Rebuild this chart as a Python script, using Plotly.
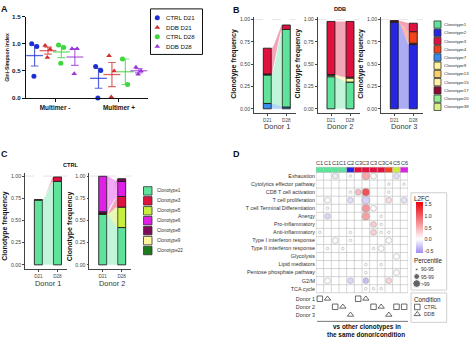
import numpy as np
import plotly.graph_objects as go

W, H = 474, 342
FONT = "Liberation Sans, Arial, Helvetica, sans-serif"

# ---------------- Panel A: Gini-Simpson index ----------------
a_groups = ["Multimer -", "Multimer +"]
a_series = ["CTRL D21", "DDB D21", "CTRL D28", "DDB D28"]
a_ctrl_d21 = [[1.00, 0.95, 0.40], [0.58, 0.51, 0.00]]
a_ddb_d21 = [[0.97, 0.90, 0.75], [0.78, 0.50, 0.02]]
a_ctrl_d28 = [[0.98, 0.93, 0.64], [0.72, 0.25]]
a_ddb_d28 = [[0.91, 0.91, 0.45], [0.57, 0.50, 0.44]]
a_yticks = [0.0, 0.5, 1.0, 1.5]

# ---------------- Clonotype palette ----------------
clonotypes = ["Clonotype1", "Clonotype2", "Clonotype3", "Clonotype4", "Clonotype5",
              "Clonotype6", "Clonotype7", "Clonotype8", "Clonotype9", "Clonotype13",
              "Clonotype15", "Clonotype17", "Clonotype20", "Clonotype22", "Clonotype38"]
clonotype_colors = ["#5fe39b", "#2626e2", "#df113f", "#f2411d", "#c6ef3d",
                    "#df20e6", "#3a8df0", "#7e0b5a", "#fff49b", "#f7cf66",
                    "#fff1a6", "#8c0b33", "#91ef8f", "#1d7a1d", "#daf087"]
ddb_legend = ["Clonotype1", "Clonotype2", "Clonotype3", "Clonotype4", "Clonotype7",
              "Clonotype9", "Clonotype13", "Clonotype15", "Clonotype17", "Clonotype20",
              "Clonotype38"]
ctrl_legend = ["Clonotype1", "Clonotype3", "Clonotype5", "Clonotype6", "Clonotype8",
               "Clonotype9", "Clonotype22"]
timepoints = ["D21", "D28"]
freq_ticks = [0, 0.25, 0.5, 0.75, 1.0]

# Clonotype frequencies per bar, stacked bottom to top
ddb_d1_d21_clones = ["Clonotype7", "Clonotype1", "Clonotype17", "Clonotype3"]
ddb_d1_d21_freq = [0.06, 0.32, 0.01, 0.29]
ddb_d1_d28_clones = ["Clonotype7", "Clonotype1", "Clonotype3"]
ddb_d1_d28_freq = [0.02, 0.87, 0.05]
ddb_d2_d21_clones = ["Clonotype1", "Clonotype9", "Clonotype13", "Clonotype3"]
ddb_d2_d21_freq = [0.36, 0.015, 0.01, 0.595]
ddb_d2_d28_clones = ["Clonotype1", "Clonotype9", "Clonotype13", "Clonotype3"]
ddb_d2_d28_freq = [0.30, 0.045, 0.01, 0.625]
ddb_d3_d21_clones = ["Clonotype2", "Clonotype4", "Clonotype3"]
ddb_d3_d21_freq = [0.97, 0.01, 0.01]
ddb_d3_d28_clones = ["Clonotype2", "Clonotype17", "Clonotype4", "Clonotype3"]
ddb_d3_d28_freq = [0.72, 0.015, 0.13, 0.095]
ctrl_d1_d21_clones = ["Clonotype1", "Clonotype3"]
ctrl_d1_d21_freq = [0.73, 0.004]
ctrl_d1_d28_clones = ["Clonotype1", "Clonotype3"]
ctrl_d1_d28_freq = [0.94, 0.05]
ctrl_d2_d21_clones = ["Clonotype1", "Clonotype5", "Clonotype3", "Clonotype8", "Clonotype6"]
ctrl_d2_d21_freq = [0.57, 0.004, 0.004, 0.02, 0.40]
ctrl_d2_d28_clones = ["Clonotype1", "Clonotype5", "Clonotype3", "Clonotype6", "Clonotype8"]
ctrl_d2_d28_freq = [0.42, 0.23, 0.12, 0.17, 0.03]

# ---------------- Panel D: pathway enrichment ----------------
pathways = ["Exhaustion", "Cytolytics effector pathway", "CD8 T cell activation",
            "T cell proliferation", "T cell Terminal Differentiation", "Anergy",
            "Pro-inflammatory", "Anti-inflammatory", "Type I interferon response",
            "Type II interferon response", "Glycolysis", "Lipid mediators",
            "Pentose phosphate pathway", "G2/M", "TCA cycle"]
col_labels = ["C1", "C1", "C1", "C1", "C2", "C3", "C3", "C3", "C3", "C4", "C5", "C6"]
col_donor = [1, 1, 2, 2, 3, 1, 1, 2, 2, 3, 2, 2]
col_condition = ["CTRL", "DDB", "CTRL", "DDB", "DDB", "CTRL", "DDB", "CTRL", "DDB",
                 "DDB", "CTRL", "CTRL"]
donors = ["Donor 1", "Donor 2", "Donor 3"]
dot_pathway = (["Exhaustion"] * 5 + ["Cytolytics effector pathway"] * 2
               + ["CD8 T cell activation"] * 4 + ["T cell proliferation"] * 5
               + ["T cell Terminal Differentiation"] * 3 + ["Anergy"] * 3
               + ["Pro-inflammatory"] * 2 + ["Anti-inflammatory"] * 5
               + ["Type I interferon response"] * 3 + ["Type II interferon response"] * 4
               + ["Glycolysis"] + ["Lipid mediators"] * 2
               + ["Pentose phosphate pathway"] * 2 + ["G2/M"] * 4 + ["TCA cycle"] * 3)
dot_col = [2, 4, 6, 7, 10,
           9, 11,
           4, 5, 6, 9,
           1, 4, 6, 9, 11,
           1, 6, 7,
           1, 6, 8,
           7, 8,
           0, 4, 7, 8, 9,
           2, 4, 9,
           1, 3, 7, 8,
           10,
           6, 8,
           6, 10,
           1, 4, 6, 9,
           6, 7, 8]
dot_l2fc = [-0.15, 0.0, 0.8, 0.02, -0.25,
            0.0, 0.0,
            0.0, 0.6, 1.55, 0.0,
            0.02, -0.25, -0.35, 0.3, -0.2,
            0.0, 0.95, 0.02,
            -0.3, 0.85, 0.0,
            0.45, 0.0,
            0.0, 0.0, 0.4, 0.0, 0.0,
            0.02, 0.0, 0.02,
            0.0, 0.0, 0.0, 0.02,
            0.02,
            0.0, 0.0,
            0.0, 0.02,
            0.02, -0.3, -0.5, 0.35,
            0.0, 0.0, 0.0]
dot_pct = ["95-99", "90-95", ">99", "95-99", "95-99",
           "90-95", "90-95",
           "90-95", "95-99", ">99", "90-95",
           "95-99", "95-99", ">99", "95-99", "95-99",
           "90-95", ">99", "95-99",
           "95-99", ">99", "90-95",
           "95-99", "90-95",
           "90-95", "90-95", "95-99", "90-95", "90-95",
           "95-99", "90-95", "95-99",
           "90-95", "90-95", "90-95", "95-99",
           "95-99",
           "90-95", "90-95",
           "90-95", "95-99",
           "95-99", "95-99", "95-99", "95-99",
           "90-95", "90-95", "90-95"]
pct_levels = ["90-95", "95-99", ">99"]
l2fc_ticks = [-0.5, 0.0, 0.5, 1.0, 1.5]

# ---------------- helpers ----------------
color_of = dict(zip(clonotypes, clonotype_colors))
pct_size = dict(zip(pct_levels, [2.6, 5.8, 7.8]))


def px(x):
    return x / W


def py(y):
    return 1 - y / H


def rgba(hex_color, a):
    h = hex_color.lstrip("#")
    r, g, b = int(h[0:2], 16), int(h[2:4], 16), int(h[4:6], 16)
    return f"rgba({r},{g},{b},{a})"


fig = go.Figure()
annotations = []
shapes = []


def text(x, y, s, size, color="#222", bold=False, xanchor="center", angle=0):
    annotations.append(dict(
        x=px(x), y=py(y), xref="paper", yref="paper", text=s, showarrow=False,
        xanchor=xanchor, yanchor="middle", textangle=angle, borderpad=0, borderwidth=0,
        font=dict(family=FONT, size=size, color=color, weight="bold" if bold else "normal")))


# ---------------- Panel A ----------------
a_values = [a_ctrl_d21, a_ddb_d21, a_ctrl_d28, a_ddb_d28]
a_colors = ["#1d2fd4", "#d42b2b", "#3bd73b", "#9a36d8"]
a_symbols = ["circle", "triangle-up", "circle", "triangle-up"]
a_offsets = [-0.32, -0.11, 0.10, 0.31]
jitter = [-0.045, 0.035, -0.01, 0.02]
for s, name in enumerate(a_series):
    xs, ys, mx, my, me = [], [], [], [], []
    for g in range(len(a_groups)):
        vals = np.array(a_values[s][g])
        for k, v in enumerate(vals):
            xs.append(g + a_offsets[s] + jitter[k % len(jitter)])
            ys.append(v)
        mx.append(g + a_offsets[s])
        my.append(vals.mean())
        me.append(vals.std(ddof=1) / np.sqrt(len(vals)))
    fig.add_trace(go.Scatter(
        x=mx, y=my, mode="markers", xaxis="x", yaxis="y", cliponaxis=False,
        marker=dict(symbol="line-ew", size=12, color=rgba(a_colors[s], 0.75),
                    line=dict(width=1.3, color=rgba(a_colors[s], 0.75))),
        error_y=dict(type="data", array=me, visible=True, width=3.8, thickness=1.2,
                     color=rgba(a_colors[s], 0.75))))
    fig.add_trace(go.Scatter(
        x=xs, y=ys, mode="markers", xaxis="x", yaxis="y", cliponaxis=False,
        marker=dict(symbol=a_symbols[s], size=5, color=a_colors[s], line=dict(width=0))))

ax_a = dict(domain=[px(26), px(148)], range=[-0.454, 1.454], anchor="y",
            tickvals=[0, 1], ticktext=a_groups, showline=True, linecolor="#111",
            linewidth=1.1, ticks="outside", ticklen=3, tickwidth=1, tickcolor="#111",
            tickfont=dict(family=FONT, size=6.4, color="#111", weight="bold"),
            showgrid=False, zeroline=False)
ay_a = dict(domain=[py(96), py(13)], range=[0, 1.5], anchor="x",
            tickvals=a_yticks, ticktext=[f"{v:.1f}" for v in a_yticks], showline=True,
            linecolor="#111", linewidth=1.1, ticks="outside", ticklen=3, tickwidth=1,
            tickcolor="#111", tickfont=dict(family=FONT, size=6.2, color="#111", weight="bold"),
            showgrid=False, zeroline=False)
text(7, 55, "Gini-Simpson index", 5.2, "#111", True, angle=-90)

# A legend
shapes.append(dict(type="rect", xref="paper", yref="paper", x0=px(150.5), x1=px(202.5),
                   y0=py(51.5), y1=py(5), line=dict(color="#111", width=1)))
leg_y = [14, 24, 33.5, 43.3]
fig.add_trace(go.Scatter(
    x=[157.3] * 4, y=leg_y, mode="markers", xaxis="x8", yaxis="y8", cliponaxis=False,
    marker=dict(symbol=a_symbols, size=5, color=a_colors)))
for s, name in enumerate(a_series):
    text(166, leg_y[s], name, 6.1, "#111", xanchor="left")


# ---------------- Panels B and C: alluvial bars ----------------
BW = 0.42


def alluvium(n, bars):
    spans = []
    for clones, freqs in bars:
        f = np.array(freqs, dtype=float)
        bottoms = np.concatenate([[0.0], np.cumsum(f)[:-1]])
        spans.append({c: (b, b + v) for c, b, v in zip(clones, bottoms, f)})
    t = np.linspace(0, 1, 40)
    s = t * t * (3 - 2 * t)
    xr = BW / 2 + (1 - BW) * t
    for c in bars[0][0]:
        if c in spans[1]:
            (a0, a1), (b0, b1) = spans[0][c], spans[1][c]
            top = a1 + (b1 - a1) * s
            bot = a0 + (b0 - a0) * s
            fig.add_trace(go.Scatter(
                x=np.concatenate([xr, xr[::-1]]), y=np.concatenate([top, bot[::-1]]),
                mode="lines", fill="toself", fillcolor=rgba(color_of[c], 0.38),
                line=dict(width=0), xaxis=f"x{n}", yaxis=f"y{n}", hoverinfo="skip"))
    for i, (clones, freqs) in enumerate(bars):
        f = np.array(freqs, dtype=float)
        bottoms = np.concatenate([[0.0], np.cumsum(f)[:-1]])
        fig.add_trace(go.Bar(
            x=[i] * len(f), y=f, base=bottoms, width=BW, xaxis=f"x{n}", yaxis=f"y{n}",
            marker=dict(color=[color_of[c] for c in clones],
                        line=dict(color="#1e1e1e", width=0.9))))


def freq_axes(n, xl, xr, yt, yb):
    xa = dict(domain=[px(xl), px(xr)], range=[-0.7, 1.5], anchor=f"y{n}",
              tickvals=[0, 1], ticktext=timepoints, showline=True, linecolor="#444",
              linewidth=0.8, ticks="outside", ticklen=2, tickwidth=0.8, tickcolor="#444",
              tickfont=dict(family=FONT, size=4.6, color="#444"), showgrid=False,
              zeroline=False)
    ya = dict(domain=[py(yb), py(yt)], range=[-0.05, 1.035], anchor=f"x{n}",
              tickvals=freq_ticks, ticktext=[f"{v:.2f}" for v in freq_ticks],
              showline=True, linecolor="#444", linewidth=0.8, ticks="outside", ticklen=2,
              tickwidth=0.8, tickcolor="#444",
              tickfont=dict(family=FONT, size=5.2, color="#444"), showgrid=False,
              zeroline=False)
    shapes.append(dict(type="line", xref=f"x{n}", yref=f"y{n}", x0=-0.7, x1=1.5, y0=1,
                       y1=1, layer="below", line=dict(color="#d9d9d9", width=0.7, dash="dash")))
    return xa, ya


# B: DDB
b_axes = [(2, 254, 295.8), (3, 317.7, 359.5), (4, 381, 422.8)]
b_bars = [
    [(ddb_d1_d21_clones, ddb_d1_d21_freq), (ddb_d1_d28_clones, ddb_d1_d28_freq)],
    [(ddb_d2_d21_clones, ddb_d2_d21_freq), (ddb_d2_d28_clones, ddb_d2_d28_freq)],
    [(ddb_d3_d21_clones, ddb_d3_d21_freq), (ddb_d3_d28_clones, ddb_d3_d28_freq)],
]
axes_layout = {"xaxis": ax_a, "yaxis": ay_a}
for (n, xl, xr), bars, donor in zip(b_axes, b_bars, donors):
    alluvium(n, bars)
    xa, ya = freq_axes(n, xl, xr, 12.8, 111.55)
    axes_layout[f"xaxis{n}"] = xa
    axes_layout[f"yaxis{n}"] = ya
    text(xl - 20, 61, "Clonotype frequency", 7.0, "#111", True, angle=-90)
    text(xl + 22.5, 125, donor, 7.4, "#333")
text(340, 5.5, "DDB", 5.6, "#111", True)

# C: CTRL
c_axes = [(5, 25, 67), (6, 89.4, 131.2)]
c_bars = [
    [(ctrl_d1_d21_clones, ctrl_d1_d21_freq), (ctrl_d1_d28_clones, ctrl_d1_d28_freq)],
    [(ctrl_d2_d21_clones, ctrl_d2_d21_freq), (ctrl_d2_d28_clones, ctrl_d2_d28_freq)],
]
for (n, xl, xr), bars, donor in zip(c_axes, c_bars, donors):
    alluvium(n, bars)
    xa, ya = freq_axes(n, xl, xr, 172.5, 270.8)
    axes_layout[f"xaxis{n}"] = xa
    axes_layout[f"yaxis{n}"] = ya
    text(xl - 19.5, 227, "Clonotype frequency", 7.0, "#111", True, angle=-90)
    text(xl + 22.5, 285, donor, 7.4, "#333")
text(70, 164, "CTRL", 5.6, "#111", True)


def swatch_legend(names, x0, y0, step, w, h, tx, size):
    for k, c in enumerate(names):
        yc = y0 + k * step
        shapes.append(dict(type="rect", xref="paper", yref="paper", x0=px(x0), x1=px(x0 + w),
                           y0=py(yc + h / 2), y1=py(yc - h / 2), fillcolor=color_of[c],
                           line=dict(color="#333", width=0.8)))
        text(tx, yc, c, size, "#333", xanchor="left")


swatch_legend(ddb_legend, 434, 21, 8.4, 7, 7.4, 444, 4.4)
swatch_legend(ctrl_legend, 143.5, 190.8, 10.15, 8.5, 8.6, 156.5, 4.6)

# ---------------- Panel D ----------------
n_cols = len(col_labels)
n_rows = len(pathways)
donor_rows = [n_rows + 0.25 + k for k in range(len(donors))]
row_of = {p: i for i, p in enumerate(pathways)}

for c in range(n_cols + 1):
    shapes.append(dict(type="line", xref="x7", yref="y7", x0=c - 0.5, x1=c - 0.5,
                       y0=-0.5, y1=n_rows - 0.5, line=dict(color="#b9b9b9", width=0.6)))
for r in range(n_rows + 1):
    shapes.append(dict(type="line", xref="x7", yref="y7", x0=-0.5, x1=n_cols - 0.5,
                       y0=r - 0.5, y1=r - 0.5, line=dict(color="#b9b9b9", width=0.6)))
for c, lab in enumerate(col_labels):
    shapes.append(dict(type="rect", xref="x7", yref="paper", x0=c - 0.5, x1=c + 0.5,
                       y0=py(172), y1=py(166.6), fillcolor=color_of["Clonotype" + lab[1:]],
                       line=dict(color="#b9b9b9", width=0.4)))
    annotations.append(dict(x=c, y=py(162.5), xref="x7", yref="paper", text=lab,
                            showarrow=False, xanchor="center", yanchor="middle",
                            borderpad=0, font=dict(family=FONT, size=5.6, color="#333")))

fig.add_trace(go.Scatter(
    x=dot_col, y=[row_of[p] for p in dot_pathway], mode="markers", xaxis="x7", yaxis="y7",
    cliponaxis=False,
    marker=dict(size=[pct_size[p] for p in dot_pct], color=dot_l2fc, cmin=-0.6, cmax=1.6,
                colorscale=[[0, "#a08df0"], [0.6 / 2.2, "#ffffff"], [1, "#e8000c"]],
                line=dict(color="#8c8c8c", width=0.6),
                colorbar=dict(x=px(415.7), xanchor="left", xpad=0, ypad=0,
                              y=py(228.4), yanchor="middle", len=51.4, lenmode="pixels",
                              thickness=7, outlinewidth=0, tickvals=l2fc_ticks,
                              ticktext=[f"{v:.1f}" for v in l2fc_ticks], ticks="",
                              tickfont=dict(family=FONT, size=5.2, color="#333")))))

cond_symbol = {"CTRL": "square-open", "DDB": "triangle-up-open"}
fig.add_trace(go.Scatter(
    x=list(range(n_cols)), y=[donor_rows[d - 1] for d in col_donor], mode="markers",
    xaxis="x7", yaxis="y7", cliponaxis=False,
    marker=dict(symbol=[cond_symbol[c] for c in col_condition], size=5.5, color="#444",
                line=dict(width=0.8))))

axes_layout["xaxis7"] = dict(domain=[px(316), px(408)], range=[-0.5, n_cols - 0.5],
                             anchor="y7", showticklabels=False, showgrid=False,
                             zeroline=False, showline=False, ticks="")
axes_layout["yaxis7"] = dict(domain=[py(320.2), py(171.6)], range=[17.6, -0.5],
                             anchor="x7", tickvals=list(range(n_rows)) + donor_rows,
                             ticktext=pathways + donors, showgrid=False, zeroline=False,
                             showline=False, ticks="",
                             tickfont=dict(family=FONT, size=5.4, color="#333"))

# D legends
shapes.append(dict(type="rect", xref="paper", yref="paper", x0=px(411), x1=px(446.7),
                   y0=py(292), y1=py(192.7), line=dict(color="#cfcfcf", width=1)))
shapes.append(dict(type="rect", xref="paper", yref="paper", x0=px(411), x1=px(446.7),
                   y0=py(325), y1=py(295), line=dict(color="#cfcfcf", width=1)))
text(413.5, 199, "L2FC", 6.3, "#222", xanchor="left")
text(413.5, 261.7, "Percentile", 6.3, "#222", xanchor="left")
text(413.5, 301.7, "Condition", 6.3, "#222", xanchor="left")
pct_y = [271, 278.2, 285.4]
fig.add_trace(go.Scatter(
    x=[416.7] * 3, y=pct_y, mode="markers", xaxis="x8", yaxis="y8", cliponaxis=False,
    marker=dict(size=[pct_size[p] for p in pct_levels], color="#222")))
for p, y in zip(pct_levels, pct_y):
    text(421, y, p, 5.0, "#333", xanchor="left")
cond_y = [309.3, 316.7]
fig.add_trace(go.Scatter(
    x=[417.3] * 2, y=cond_y, mode="markers", xaxis="x8", yaxis="y8", cliponaxis=False,
    marker=dict(symbol=[cond_symbol["CTRL"], cond_symbol["DDB"]], size=5.5, color="#444",
                line=dict(width=0.8))))
text(423.5, cond_y[0], "CTRL", 5.0, "#333", xanchor="left")
text(423.5, cond_y[1], "DDB", 5.0, "#333", xanchor="left")

shapes.append(dict(type="line", xref="paper", yref="paper", x0=px(317), x1=px(408),
                   y0=py(324), y1=py(324), line=dict(color="#555", width=0.8)))
text(366.5, 329.3, "vs other clonotypes in", 6.4, "#111", True)
text(366, 337.7, "the same donor/condition", 6.4, "#111", True)

axes_layout["xaxis8"] = dict(domain=[0, 1], range=[0, W], anchor="y8", visible=False,
                             fixedrange=True)
axes_layout["yaxis8"] = dict(domain=[0, 1], range=[H, 0], anchor="x8", visible=False,
                             fixedrange=True)

# panel letters
for lab, x, y in [("A", 0.5, 5), ("B", 233, 6), ("C", 0.5, 153), ("D", 233, 153)]:
    text(x, y, lab, 9, "#111", True, xanchor="left")

fig.update_layout(
    width=W, height=H, margin=dict(l=0, r=0, t=0, b=0),
    paper_bgcolor="white", plot_bgcolor="rgba(0,0,0,0)",
    showlegend=False, barmode="overlay", font=dict(family=FONT),
    annotations=annotations, shapes=shapes, **axes_layout)

fig.write_html("out.html")
